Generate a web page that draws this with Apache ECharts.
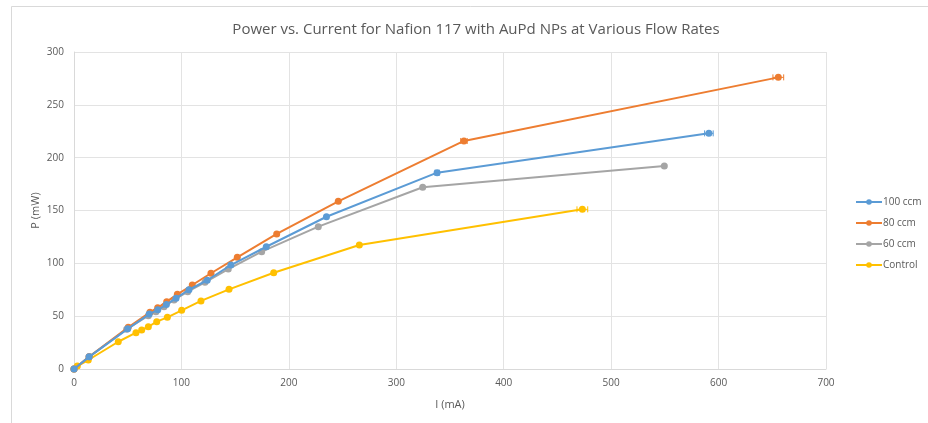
<!DOCTYPE html>
<html><head><meta charset="utf-8">
<script src="https://cdn.jsdelivr.net/npm/echarts@6/dist/echarts.min.js"></script>
<style>html,body{margin:0;padding:0;background:#fff}#c{width:928px;height:423px}</style>
</head><body><div id="c"></div>
<script>
const seriesNames = ['100 ccm', '80 ccm', '60 ccm', 'Control'];
const colors = ['#5B9BD5', '#ED7D31', '#A5A5A5', '#FFC000'];
// current (mA)
const i100 = [0, 14, 50, 70, 78, 86, 95, 107, 124, 146, 179, 235, 338, 591];
const p100 = [0, 11.5, 38, 52, 56, 61, 67, 75, 84, 98.4, 115.7, 144.1, 185.8, 223];
const e100 = [0, 0, 0, 0, 0, 0, 0, 0, 0, 0, 0, 0, 2, 4];
const i80 = [0, 14, 50.5, 70.7, 77.9, 86.3, 96.2, 110.1, 127.5, 152, 188.7, 246, 363, 655.6];
const p80 = [0, 11.5, 39.5, 53.7, 58, 63.7, 70.7, 79.5, 90.6, 105.7, 127.8, 158.7, 215.8, 276];
const e80 = [0, 0, 0, 0, 0, 0, 0, 0, 0, 0, 0, 0, 3, 5];
const i60 = [0, 14.2, 49, 69.2, 76.3, 83.8, 93.1, 105.8, 121.9, 143.6, 174.7, 227.4, 324.6, 549.5];
const p60 = [0, 11.6, 37.6, 50.4, 54.2, 59, 65.3, 73.2, 82, 94.6, 111, 134.7, 172, 192.1];
const e60 = [0, 0, 0, 0, 0, 0, 0, 0, 0, 0, 0, 0, 0, 0];
const iCtl = [0, 3.1, 13.3, 41.2, 57.7, 63, 69.2, 77, 86.9, 100.2, 118.2, 144.3, 185.9, 265.6, 473.2];
const pCtl = [0, 2.8, 8.5, 25.8, 34.4, 36.9, 40, 44.8, 48.9, 55.5, 64.4, 75.4, 91.1, 117.3, 151.1];
const eCtl = [0, 0, 0, 0, 0, 0, 0, 0, 0, 0, 0, 0, 0, 0, 5];

const xs = [i100, i80, i60, iCtl];
const ys = [p100, p80, p60, pCtl];
const es = [e100, e80, e60, eCtl];

const chart = echarts.init(document.getElementById('c'), null, {renderer: 'canvas'});
const series = [];
const textColor = '#595959';
const font = 'Open Sans';
seriesNames.forEach((name, k) => {
  const data = xs[k].map((x, j) => [x, ys[k][j]]);
  series.push({
    name, type: 'line', data, symbol: 'circle', symbolSize: 7,
    lineStyle: {width: 2, color: colors[k]},
    itemStyle: {color: colors[k]},
    z: 3 + (3 - k)
  });
  const err = xs[k].map((x, j) => [x, ys[k][j], es[k][j]]).filter(d => d[2] > 0);
  series.push({
    name, type: 'custom', data: err, z: 10,
    renderItem: (params, api) => {
      const x = api.value(0), y = api.value(1), e = api.value(2);
      const a = api.coord([x - e, y]), b = api.coord([x + e, y]);
      const st = {stroke: colors[k], lineWidth: 1};
      return {type: 'group', children: [
        {type: 'line', shape: {x1: a[0], y1: a[1], x2: b[0], y2: b[1]}, style: st},
        {type: 'line', shape: {x1: a[0], y1: a[1] - 3, x2: a[0], y2: a[1] + 3}, style: st},
        {type: 'line', shape: {x1: b[0], y1: b[1] - 3, x2: b[0], y2: b[1] + 3}, style: st}
      ]};
    }
  });
});

chart.setOption({
  animation: false,
  backgroundColor: '#fff',
  graphic: [{type: 'rect', shape: {x: 11.5, y: 6.5, width: 930, height: 430}, style: {fill: 'none', stroke: '#d9d9d9', lineWidth: 1}, silent: true}],
  title: {text: 'Power vs. Current for Nafion 117 with AuPd NPs at Various Flow Rates', left: 471, top: 17, textAlign: 'center',
    textStyle: {fontFamily: font, fontSize: 15, fontWeight: 'normal', color: textColor}},
  grid: {left: 74, right: 102, top: 52, bottom: 54},
  legend: {orient: 'vertical', left: 850, top: 190, itemGap: 7, itemWidth: 26, itemHeight: 7,
    data: seriesNames, textStyle: {fontFamily: font, fontSize: 10, color: textColor, padding: [0, 0, 0, -4], lineHeight: 14}},
  xAxis: {type: 'value', min: 0, max: 700, interval: 100, name: 'I (mA)', nameLocation: 'middle', nameGap: 30,
    nameTextStyle: {fontFamily: font, fontSize: 11, color: textColor},
    axisLine: {show: true, lineStyle: {color: '#d9d9d9'}}, axisTick: {show: false},
    axisLabel: {fontFamily: font, fontSize: 10, color: textColor, margin: 9},
    splitLine: {show: true, lineStyle: {color: '#e3e3e3'}}},
  yAxis: {type: 'value', min: 0, max: 300, interval: 50, name: 'P (mW)', nameLocation: 'middle', nameGap: 33, nameRotate: 90,
    nameMoveOverlap: false,
    nameTextStyle: {fontFamily: font, fontSize: 11, color: textColor},
    axisLine: {show: true, lineStyle: {color: '#d9d9d9'}}, axisTick: {show: false},
    axisLabel: {fontFamily: font, fontSize: 10, color: textColor, margin: 10},
    splitLine: {show: true, lineStyle: {color: '#e3e3e3'}}},
  series
});
</script></body></html>
